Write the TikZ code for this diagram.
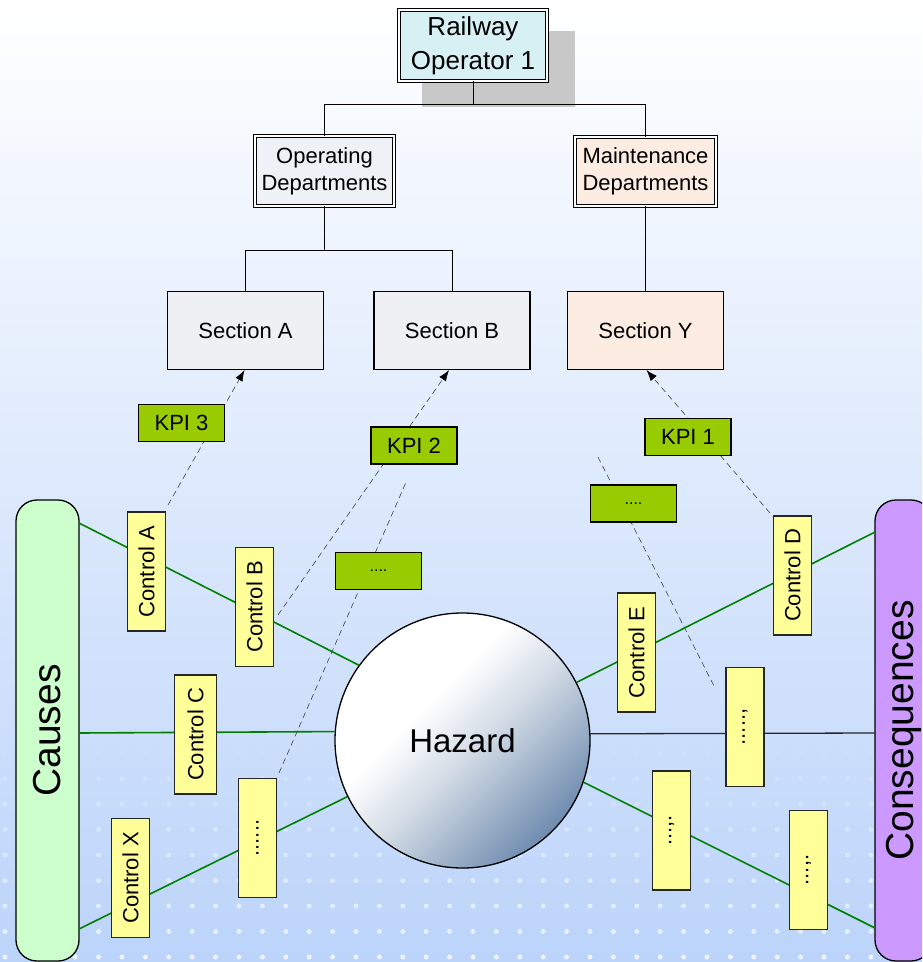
\documentclass[tikz,border=0pt]{standalone}
\usepackage{fontspec}
\setmainfont{Liberation Sans}
\usetikzlibrary{arrows.meta,shapes.geometric}
\definecolor{opfill}{RGB}{215,240,244}
\definecolor{opdfill}{RGB}{238,241,246}
\definecolor{secfill}{RGB}{238,240,244}
\definecolor{mntfill}{RGB}{252,236,225}
\definecolor{ctrlyellow}{RGB}{255,255,153}
\definecolor{kpigreen}{RGB}{153,204,0}
\definecolor{linegreen}{RGB}{0,128,0}
\definecolor{causesgreen}{RGB}{204,255,204}
\definecolor{conspurple}{RGB}{204,153,255}
\definecolor{shadowgray}{RGB}{200,200,200}
\definecolor{bgbottom}{RGB}{188,212,250}
\definecolor{bgmid}{RGB}{228,236,252}
\definecolor{hazmid}{RGB}{214,222,232}
\definecolor{hazdark}{RGB}{70,108,152}
\pgfdeclareverticalshading{hazshade}{100bp}{color(0bp)=(hazdark); color(16bp)=(hazdark); color(48bp)=(hazmid); color(60bp)=(white); color(100bp)=(white)}
\newcommand{\fsmain}{\fontsize{22}{27}\selectfont}
\begin{document}
\begin{tikzpicture}[x=1pt,y=-1pt,
  treebox/.style={draw=black, double=white, double distance=2.2pt, line width=0.9pt,
    inner sep=0pt, align=center, font=\fsmain},
  secbox/.style={draw=black, line width=1.2pt, minimum width=156pt, minimum height=78pt,
    inner sep=0pt, font=\fsmain},
  ctrlbox/.style={draw=black!85, fill=ctrlyellow, line width=1.2pt, rotate=90,
    minimum width=119pt, minimum height=38pt, inner sep=0pt, font=\fsmain},
  kpibox/.style={draw=black, fill=kpigreen, line width=1.3pt, minimum width=86pt,
    minimum height=37pt, inner sep=0pt, font=\fsmain},
  sidebar/.style={draw=black, line width=1.3pt, rounded corners=21pt, rotate=90,
    minimum width=461pt, inner sep=0pt, font=\fontsize{39}{46}\selectfont},
  gline/.style={draw=linegreen, line width=1.6pt},
  bline/.style={draw=black!85, line width=1.3pt},
  dline/.style={draw=black!75, line width=0.6pt, dash pattern=on 6pt off 4pt},
  kpiarrow/.style={-{Latex[length=11pt,width=8pt,color=black]}},
  conn/.style={draw=black, line width=0.8pt},
  bgdot/.style={fill=white, draw=none}
]
\useasboundingbox (0,0) rectangle (922,962);
\clip (0,0) rectangle (922,962);
% background
\shade[top color=white, middle color=bgmid, bottom color=bgbottom] (0,0) rectangle (922,962);
\foreach \k in {0,...,8}{
  \pgfmathsetmacro{\yy}{753+25.5*\k}
  \pgfmathsetmacro{\op}{0.08+0.08*\k}
  \foreach \j in {0,...,39}{
    \fill[bgdot, opacity=\op] ({5+23.4*\j},\yy) circle (2.5);
  }
}
% shadow of top box
\fill[shadowgray] (422,31) rectangle (575,107);
% organisation tree
\node[treebox, fill=opfill, minimum width=148pt, minimum height=71pt,
  font=\fontsize{26}{34}\selectfont] (op) at (473,45.5) {Railway\\Operator 1};
\node[treebox, fill=opdfill, minimum width=139pt, minimum height=70pt] (opd) at (324.5,171) {Operating\\Departments};
\node[treebox, fill=mntfill, minimum width=141pt, minimum height=69pt] (mnd) at (645.5,171.5) {Maintenance\\Departments};
\node[secbox, fill=secfill] (secA) at (245.5,330.5) {Section A};
\node[secbox, fill=secfill] (secB) at (452,330.5) {Section B};
\node[secbox, fill=mntfill] (secY) at (645.5,330.5) {Section Y};
\coordinate (bus1) at (0,104);
\coordinate (bus2) at (0,250);
\draw[conn] (op.south) -- (op.south |- bus1);
\draw[conn] (opd.north) -- (opd.north |- bus1) -- (mnd.north |- bus1) -- (mnd.north);
\draw[conn] (opd.south) -- (opd.south |- bus2);
\draw[conn] (secA.north) -- (secA.north |- bus2) -- (secB.north |- bus2) -- (secB.north);
\draw[conn] (mnd.south) -- (secY.north);
% dashed KPI links
\coordinate (dAs) at (168,505);
\coordinate (dBs) at (278,615);
\coordinate (dDs) at (770,513);
\coordinate (dLs) at (279,773);
\coordinate (dLe) at (407,480);
\coordinate (dRs) at (598,457);
\coordinate (dRe) at (715,688);
\draw[dline, kpiarrow] (dAs) -- ([xshift=-1pt]secA.south);
\draw[dline, kpiarrow] (dBs) -- ([xshift=-3pt]secB.south);
\draw[dline, kpiarrow] (dDs) -- ([xshift=1pt]secY.south);
\draw[dline] (dLs) -- (dLe);
\draw[dline] (dRs) -- (dRe);
% hazard
\node[circle, draw=black, line width=1.3pt, minimum size=255pt, inner sep=0pt,
  shading=hazshade, shading angle=45,
  font=\fontsize{33}{40}\selectfont] (hz) at (462.5,740.5) {Hazard};
% side bars
\node[sidebar, fill=causesgreen, minimum height=63pt] (causes) at (47.5,730.5) {Causes};
\node[sidebar, fill=conspurple, minimum height=57pt] (cons) at (903.5,730.5) {Consequences};
% barrier lines
\coordinate (c1) at (79,523);
\coordinate (c2) at (79,733);
\coordinate (c3) at (79,929);
\coordinate (q1) at (875,532);
\coordinate (q2) at (875,733);
\coordinate (q3) at (875,928);
\draw[gline] (c1) -- (hz.144.2);
\draw[gline] (c2) -- (hz.176.6);
\draw[gline] (c3) -- (hz.206.1);
\draw[gline] (hz.27.9) -- (q1);
\draw[bline] (hz.3.4) -- (q2);
\draw[gline] (hz.341.6) -- (q3);
% controls
\node[ctrlbox] (ctA) at (146.5,571.5) {Control A};
\node[ctrlbox] (ctB) at (254.5,607) {Control B};
\node[ctrlbox, minimum height=42pt] (ctC) at (195.5,734.5) {Control C};
\node[ctrlbox] (ctX) at (130.5,878) {Control X};
\node[ctrlbox] (dotL) at (257.5,838) {......};
\node[ctrlbox] (ctD) at (792.5,575.5) {Control D};
\node[ctrlbox] (ctE) at (636.5,652.5) {Control E};
\node[ctrlbox] (dotM) at (745,727) {.....,};
\node[ctrlbox] (dotR1) at (671.5,830.5) {...,.};
\node[ctrlbox] (dotR2) at (808.5,870) {...,.};
% KPIs
\node[kpibox] (kpi3) at (181.5,423) {KPI 3};
\node[kpibox] (kpi2) at (414,445.5) {KPI 2};
\node[kpibox] (kpi1) at (688,437) {KPI 1};
\node[kpibox, font=\fontsize{16}{20}\selectfont] (kpiR) at (633.5,503.5) {....};
\node[kpibox, font=\fontsize{16}{20}\selectfont] (kpiL) at (378.5,571) {....};
\end{tikzpicture}
\end{document}
